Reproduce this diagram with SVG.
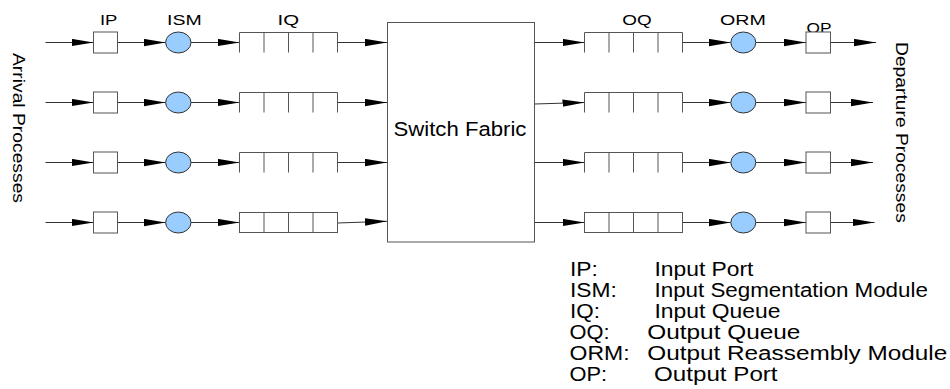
<svg xmlns="http://www.w3.org/2000/svg" width="950" height="389" viewBox="0 0 950 389">
<style>
  text { font-family: "Liberation Sans", Arial, sans-serif; fill: #000; }
  .lbl { font-size: 15px; }
  .leg { font-size: 19.5px; }
  .side { font-size: 17px; }
  .sf { font-size: 21px; }
  .box { fill: #fff; stroke: #555; stroke-width: 1; }
  .q { fill: none; stroke: #555; stroke-width: 1; }
  .qf { fill: #fff; stroke: #555; stroke-width: 1; }
  .ell { fill: #99ccff; stroke: #333; stroke-width: 1; }
  .con { fill: none; stroke: #333; stroke-width: 1; marker-end: url(#arr); }
</style>
<defs>
  <marker id="arr" markerUnits="userSpaceOnUse" markerWidth="22" markerHeight="8" refX="22" refY="3.7" orient="auto">
    <path d="M0,0 L22,3.7 L0,7.4 Z" fill="#000"/>
  </marker>
</defs>
<rect width="950" height="389" fill="#fff"/>

<g id="side-labels">
  <text class="side" transform="translate(12.5,53) rotate(90) scale(1.135,1)">Arrival Processes</text>
  <text class="side" transform="translate(896,42) rotate(90) scale(1.133,1)">Departure Processes</text>
</g>

<g id="column-labels">
  <text class="lbl" transform="translate(100,25) scale(1.23,1)">IP</text>
  <text class="lbl" transform="translate(167,24.5) scale(1.3,1)">ISM</text>
  <text class="lbl" transform="translate(277.5,24.5) scale(1.36,1)">IQ</text>
  <text class="lbl" transform="translate(622.3,24.5) scale(1.26,1)">OQ</text>
  <text class="lbl" transform="translate(720,24.5) scale(1.31,1)">ORM</text>
  <text class="lbl" transform="translate(806.5,32.5) scale(1.15,1)">OP</text>
</g>

<g id="connectors">
  <!-- row 1 -->
  <path class="con" d="M45.5,42.5 H93.5"/>
  <path class="con" d="M117.5,42.5 H165.6"/>
  <path class="con" d="M191,42.5 H239.5"/>
  <path class="con" d="M337.5,42.5 H387"/>
  <path class="con" d="M534.5,42.5 H584.5"/>
  <path class="con" d="M682.5,42.5 H730.8"/>
  <path class="con" d="M755.8,42.5 H806"/>
  <path class="con" d="M830.5,42.5 H876"/>
  <!-- row 2 -->
  <path class="con" d="M45.5,102.5 H93.5"/>
  <path class="con" d="M117.5,102.5 H165.6"/>
  <path class="con" d="M191,102.5 H239.5"/>
  <path class="con" d="M337.5,102.5 H387"/>
  <path class="con" d="M534.5,104 L584.5,102.5"/>
  <path class="con" d="M682.5,102.5 H730.8"/>
  <path class="con" d="M755.8,102.5 H806"/>
  <path class="con" d="M830.5,102.5 H873"/>
  <!-- row 3 -->
  <path class="con" d="M45.5,162.5 H93.5"/>
  <path class="con" d="M117.5,162.5 H165.6"/>
  <path class="con" d="M191,162.5 H239.5"/>
  <path class="con" d="M337.5,162.5 H387"/>
  <path class="con" d="M534.5,162.5 H584.5"/>
  <path class="con" d="M682.5,162.5 H730.8"/>
  <path class="con" d="M755.8,162.5 H806"/>
  <path class="con" d="M830.5,162.5 H873"/>
  <!-- row 4 -->
  <path class="con" d="M45.5,222.5 H93.5"/>
  <path class="con" d="M117.5,222.5 H165.6"/>
  <path class="con" d="M191,222.5 H239.5"/>
  <path class="con" d="M337.5,223 L387,221.3"/>
  <path class="con" d="M534.5,222.5 H584.5"/>
  <path class="con" d="M682.5,222.5 H730.8"/>
  <path class="con" d="M755.8,222.5 H806"/>
  <path class="con" d="M830.5,222.5 H874.5"/>
</g>

<!-- Input ports -->
<g id="ip1"><rect class="box" x="93.5" y="32" width="24" height="21"/></g>
<g id="ip2"><rect class="box" x="93.5" y="92" width="24" height="21"/></g>
<g id="ip3"><rect class="box" x="93.5" y="152" width="24" height="21"/></g>
<g id="ip4"><rect class="box" x="93.5" y="212" width="24" height="21"/></g>

<!-- ISM -->
<g id="ism1"><ellipse class="ell" cx="178.3" cy="42.5" rx="12.7" ry="10.5"/></g>
<g id="ism2"><ellipse class="ell" cx="178.3" cy="102.5" rx="12.7" ry="10.5"/></g>
<g id="ism3"><ellipse class="ell" cx="178.3" cy="162.5" rx="12.7" ry="10.5"/></g>
<g id="ism4"><ellipse class="ell" cx="178.3" cy="222.5" rx="12.7" ry="10.5"/></g>

<!-- Input queues -->
<g id="iq1"><path class="q" d="M239.5,52.5 V32.5 H337.5 V52.5 M264,32.5 V52.5 M288.5,32.5 V52.5 M313,32.5 V52.5"/></g>
<g id="iq2"><path class="q" d="M239.5,112.5 V92.5 H337.5 V112.5 M264,92.5 V112.5 M288.5,92.5 V112.5 M313,92.5 V112.5"/></g>
<g id="iq3"><path class="q" d="M239.5,172.5 V152.5 H337.5 V172.5 M264,152.5 V172.5 M288.5,152.5 V172.5 M313,152.5 V172.5"/></g>
<g id="iq4"><rect class="qf" x="239.5" y="212.5" width="98" height="20"/><path class="q" d="M264,212.5 V232.5 M288.5,212.5 V232.5 M313,212.5 V232.5"/></g>

<!-- Switch fabric -->
<g id="switch-fabric">
  <rect class="box" x="387.5" y="22.5" width="147" height="219.5"/>
  <text class="sf" transform="translate(393.5,136) scale(1.055,1)">Switch Fabric</text>
</g>

<!-- Output queues -->
<g id="oq1"><path class="q" d="M584.5,52.5 V32.5 H682.5 V52.5 M609,32.5 V52.5 M633.5,32.5 V52.5 M658,32.5 V52.5"/></g>
<g id="oq2"><path class="q" d="M584.5,112.5 V92.5 H682.5 V112.5 M609,92.5 V112.5 M633.5,92.5 V112.5 M658,92.5 V112.5"/></g>
<g id="oq3"><path class="q" d="M584.5,172.5 V152.5 H682.5 V172.5 M609,152.5 V172.5 M633.5,152.5 V172.5 M658,152.5 V172.5"/></g>
<g id="oq4"><rect class="qf" x="584.5" y="212.5" width="98" height="20"/><path class="q" d="M609,212.5 V232.5 M633.5,212.5 V232.5 M658,212.5 V232.5"/></g>

<!-- ORM -->
<g id="orm1"><ellipse class="ell" cx="743.3" cy="42.5" rx="12.5" ry="10.5"/></g>
<g id="orm2"><ellipse class="ell" cx="743.3" cy="102.5" rx="12.5" ry="10.5"/></g>
<g id="orm3"><ellipse class="ell" cx="743.3" cy="162.5" rx="12.5" ry="10.5"/></g>
<g id="orm4"><ellipse class="ell" cx="743.3" cy="222.5" rx="12.5" ry="10.5"/></g>

<!-- Output ports -->
<g id="op1"><rect class="box" x="806" y="32" width="24.5" height="21"/></g>
<g id="op2"><rect class="box" x="806" y="92" width="24.5" height="21"/></g>
<g id="op3"><rect class="box" x="806" y="152" width="24.5" height="21"/></g>
<g id="op4"><rect class="box" x="806" y="212" width="24.5" height="21"/></g>

<!-- Legend -->
<g id="legend">
  <text class="leg" transform="translate(570,276) scale(1.17,1)">IP:</text>
  <text class="leg" transform="translate(654.5,276) scale(1.17,1)">Input Port</text>
  <text class="leg" transform="translate(570,297) scale(1.17,1)">ISM:</text>
  <text class="leg" transform="translate(654.5,297) scale(1.147,1)">Input Segmentation Module</text>
  <text class="leg" transform="translate(570,318) scale(1.15,1)">IQ:</text>
  <text class="leg" transform="translate(654.5,318) scale(1.174,1)">Input Queue</text>
  <text class="leg" transform="translate(569.5,339) scale(1.12,1)">OQ:</text>
  <text class="leg" transform="translate(647.3,339) scale(1.25,1)">Output Queue</text>
  <text class="leg" transform="translate(569.5,360) scale(1.18,1)">ORM:</text>
  <text class="leg" transform="translate(647.3,360) scale(1.247,1)">Output Reassembly Module</text>
  <text class="leg" transform="translate(569.5,381) scale(1.12,1)">OP:</text>
  <text class="leg" transform="translate(654,381) scale(1.24,1)">Output Port</text>
</g>
</svg>
